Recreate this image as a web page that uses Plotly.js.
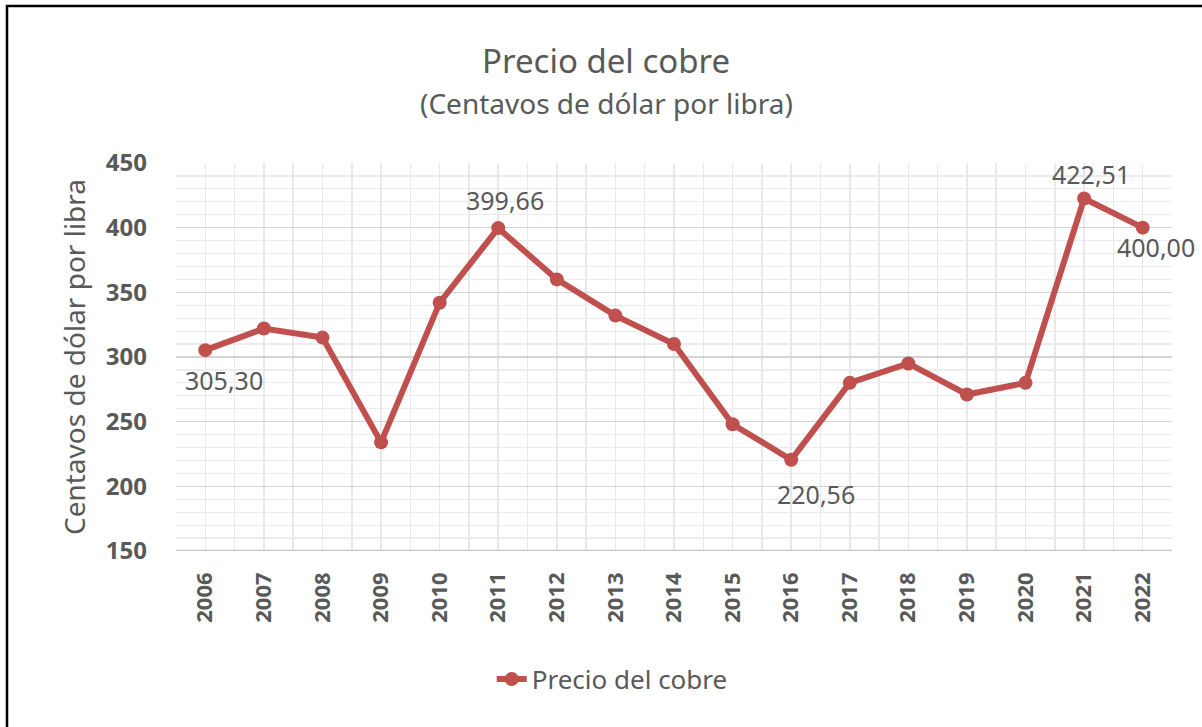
<!DOCTYPE html>
<html>
<head>
<meta charset="utf-8">
<script src="https://cdn.plot.ly/plotly-3.0.1.min.js"></script>
<style>
html,body{margin:0;padding:0;background:#fff;}
#chart{width:1202px;height:727px;}
</style>
</head>
<body>
<div id="chart"></div>
<script>
const years = [2006,2007,2008,2009,2010,2011,2012,2013,2014,2015,2016,2017,2018,2019,2020,2021,2022];
const yearLabels = years.map(String);
const precio = [305.30,322,315,234,342,399.66,360,332,310,248,220.56,280,295,271,280,422.51,400.00];
const labelText = ["305,30","","","","","399,66","","","","","220,56","","","","","422,51","400,00"];
const labelShift = {0:[19,-30],5:[7,28],10:[25,-34],15:[7,25],16:[13,-19]};
const seriesName = "Precio del cobre";
const titleText = "Precio del cobre";
const subtitleText = "(Centavos de dólar por libra)";
const yTitle = "Centavos de dólar por libra";

const font = "'Noto Sans', 'Open Sans', sans-serif";
const grey = "#595959";
const red = "#C0504D";

const annotations = [];
labelText.forEach((t,i)=>{
  if(!t) return;
  annotations.push({x:years[i], y:precio[i], xref:'x', yref:'y', text:t, showarrow:false,
    xshift:labelShift[i][0], yshift:labelShift[i][1], font:{family:font,size:25,color:grey}});
});
annotations.push({xref:'paper', yref:'paper', x:0.432, y:1.0, yanchor:'middle', yshift:103, text:titleText,
  showarrow:false, font:{family:font, size:33, color:grey}});
annotations.push({xref:'paper', yref:'paper', x:0.432, y:1.0, yanchor:'middle', yshift:60, text:subtitleText,
  showarrow:false, font:{family:font, size:28, color:grey}});

const trace = {
  x: years, y: precio, type:'scatter', mode:'lines+markers', name: seriesName,
  line:{color:red, width:6}, marker:{color:red, size:14}, cliponaxis:false
};

const layout = {
  width:1202, height:727,
  margin:{l:176, r:30, t:163, b:176},
  paper_bgcolor:'#fff', plot_bgcolor:'#fff',
  showlegend:true,
  legend:{orientation:'h', x:0.317, xanchor:'left', y:-0.33, yanchor:'middle',
    font:{family:font, size:26, color:grey}, itemwidth:30},
  xaxis:{range:[2005.5,2022.5], tickvals:years, ticktext:yearLabels, tickangle:-90,
    tickfont:{family:font, size:22, color:grey, weight:'bold'},
    showgrid:true, gridcolor:'#e8e8e8', gridwidth:1.5, zeroline:false,
    showline:false, ticks:'', ticklabelstandoff:16,
    minor:{dtick:1, tick0:2005.5, showgrid:true, gridcolor:'#e8e8e8', gridwidth:1.5}},
  yaxis:{range:[150,450], dtick:50, tick0:150, tickfont:{family:font, size:24, color:grey, weight:'bold'},
    showgrid:true, gridcolor:'#d4d4d4', gridwidth:1.5, zeroline:false,
    ticks:'', ticklabelstandoff:28,
    minor:{dtick:10, showgrid:true, gridcolor:'#ececec', gridwidth:1.2},
    title:{text:yTitle, font:{family:font, size:28, color:grey}, standoff:12}},
  annotations: annotations,
  shapes:[
    {type:'line', xref:'paper', yref:'y', x0:0, x1:1, y0:150, y1:150, line:{color:'#c8c8c8', width:2.5}, layer:'above'},
    {type:'rect', xref:'paper', yref:'paper', x0:(7-176)/996, x1:(1210-176)/996, y0:(551-740)/388, y1:(551-6)/388,
     line:{color:'#000', width:2.5}, fillcolor:'rgba(0,0,0,0)', layer:'below'}
  ]
};

Plotly.newPlot('chart', [trace], layout, {displayModeBar:false, staticPlot:true});
</script>
</body>
</html>
